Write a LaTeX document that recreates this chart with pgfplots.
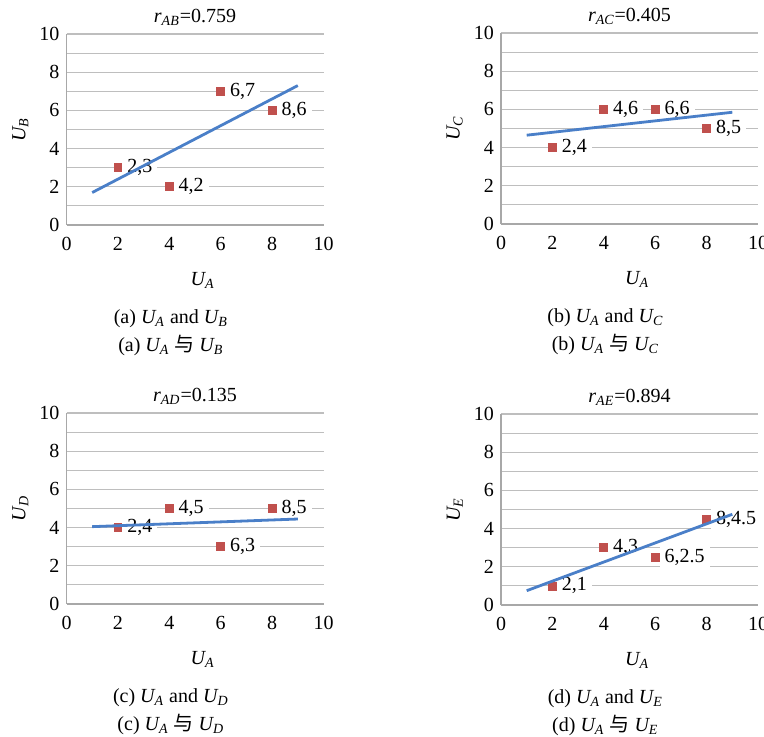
\documentclass[border=0pt]{standalone}
\usepackage{pgfplots}
\pgfplotsset{compat=1.18}
\usepackage{fontspec}
\setmainfont{Liberation Serif}
\newfontfamily\cjk{Noto Sans CJK SC}
\definecolor{mred}{HTML}{C0504D}
\definecolor{mblue}{HTML}{4A7FC8}
\definecolor{gridc}{HTML}{BEBEBE}
\definecolor{axisc}{HTML}{A8A8A8}
\newcommand{\U}[1]{\textit{U\textsubscript{#1}}}
\pgfplotsset{
  geom/.style={width=128.5pt, height=95.5pt, scale only axis,
    xmin=0, xmax=10, ymin=0, ymax=10, clip=false},
  panel/.style={geom,
    xtick={0,2,...,10}, ytick={0,2,...,10}, minor ytick={1,3,...,9},
    ymajorgrids, yminorgrids,
    major grid style={draw=gridc, line width=0.55pt},
    minor grid style={draw=gridc, line width=0.55pt},
    axis lines*=left,
    axis line style={-, draw=axisc, line width=0.55pt},
    major tick style={draw=none}, minor tick style={draw=none},
    tick label style={font=\fontsize{10}{12}\selectfont},
    xticklabel style={yshift=-2.5pt},
    /pgf/number format/assume math mode=true,
    xlabel={\U{A}},
    xlabel style={at={(axis description cs:0.53,-0.288)}, anchor=center, font=\fontsize{10}{12}\selectfont},
    ylabel style={at={(axis description cs:-0.18,0.5)}, anchor=center, font=\fontsize{10}{12}\selectfont},
  },
  over/.style={geom, hide axis},
  pts/.style={only marks, color=mred, mark=square*, mark size=2pt, mark options={draw=none, fill=mred},
    nodes near coords, point meta=explicit symbolic,
    nodes near coords align=horizontal,
    nodes near coords style={anchor=west, xshift=2pt, fill=white, inner xsep=2.5pt, inner ysep=1pt, text=black, font=\fontsize{10}{12}\selectfont}},
  trend/.style={no marks, draw=mblue, line width=1.4pt},
}
\newcommand{\ttl}[1]{\node[anchor=base, inner sep=0pt, yshift=5.8pt, font=\fontsize{10}{12}\selectfont] at (axis description cs:0.5,1) {#1};}
\newcommand{\subcap}[2]{%
  \node[font=\fontsize{10}{12}\selectfont] at (axis description cs:0.406,-0.488) {#1};%
  \node[font=\fontsize{10}{12}\selectfont] at (axis description cs:0.406,-0.632) {#2};}
\begin{document}
\begin{tikzpicture}
\path[use as bounding box] (0,0) rectangle (382pt,368pt);

% (a)
\begin{axis}[panel, at={(33.25pt,255.5pt)}, anchor=south west, ylabel={\U{B}}]
\addplot[pts] table[meta=lab] {
x y lab
2 3 {2,3}
4 2 {4,2}
6 7 {6,7}
8 6 {8,6}
};
\ttl{\textit{r\textsubscript{AB}}=0.759}
\subcap{(a) \U{A} and \U{B}}{(a) \U{A} {\cjk 与} \U{B}}
\end{axis}
\begin{axis}[over, at={(33.25pt,255.5pt)}, anchor=south west]
\addplot[trend] coordinates {(1,1.7) (9,7.3)};
\end{axis}

% (b)
\begin{axis}[panel, at={(250.5pt,256pt)}, anchor=south west, ylabel={\U{C}}]
\addplot[pts] table[meta=lab] {
x y lab
2 4 {2,4}
4 6 {4,6}
6 6 {6,6}
8 5 {8,5}
};
\ttl{\textit{r\textsubscript{AC}}=0.405}
\subcap{(b) \U{A} and \U{C}}{(b) \U{A} {\cjk 与} \U{C}}
\end{axis}
\begin{axis}[over, at={(250.5pt,256pt)}, anchor=south west]
\addplot[trend] coordinates {(1,4.65) (9,5.85)};
\end{axis}

% (c)
\begin{axis}[panel, at={(33.25pt,66pt)}, anchor=south west, ylabel={\U{D}}]
\addplot[pts] table[meta=lab] {
x y lab
2 4 {2,4}
4 5 {4,5}
6 3 {6,3}
8 5 {8,5}
};
\ttl{\textit{r\textsubscript{AD}}=0.135}
\subcap{(c) \U{A} and \U{D}}{(c) \U{A} {\cjk 与} \U{D}}
\end{axis}
\begin{axis}[over, at={(33.25pt,66pt)}, anchor=south west]
\addplot[trend] coordinates {(1,4.05) (9,4.45)};
\end{axis}

% (d)
\begin{axis}[panel, at={(250.5pt,65.5pt)}, anchor=south west, ylabel={\U{E}}]
\addplot[pts] table[meta=lab] {
x y lab
2 1 {2,1}
4 3 {4,3}
6 2.5 {6,2.5}
8 4.5 {8,4.5}
};
\ttl{\textit{r\textsubscript{AE}}=0.894}
\subcap{(d) \U{A} and \U{E}}{(d) \U{A} {\cjk 与} \U{E}}
\end{axis}
\begin{axis}[over, at={(250.5pt,65.5pt)}, anchor=south west]
\addplot[trend] coordinates {(1,0.75) (9,4.75)};
\end{axis}
\end{tikzpicture}
\end{document}
